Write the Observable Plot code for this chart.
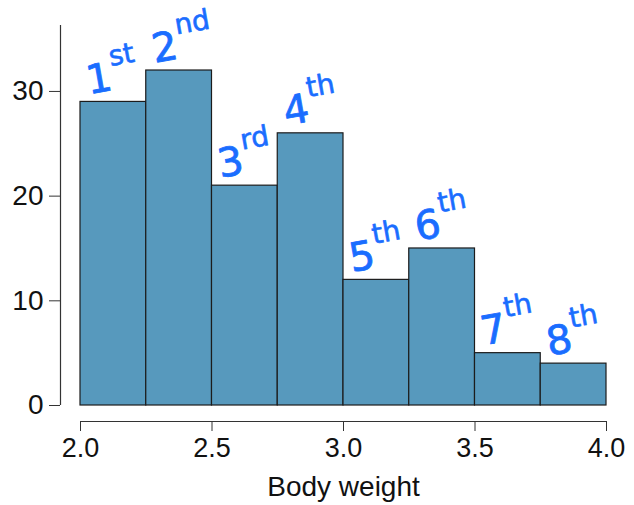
<!DOCTYPE html>
<html>
<head>
<meta charset="utf-8">
<script src="https://cdn.jsdelivr.net/npm/d3@7"></script>
<script src="https://cdn.jsdelivr.net/npm/@observablehq/plot@0.6"></script>
<style>
  html, body { margin: 0; padding: 0; background: #fff; }
  #chart svg { display: block; }
</style>
</head>
<body>
<div id="chart"></div>
<script>
const binEdges = [2.0, 2.25, 2.5, 2.75, 3.0, 3.25, 3.5, 3.75, 4.0];
const counts = [29, 32, 21, 26, 12, 15, 5, 4];
const ordinalNumbers = ["1", "2", "3", "4", "5", "6", "7", "8"];
const ordinalSuffixes = ["st", "nd", "rd", "th", "th", "th", "th", "th"];
const xTicks = [2.0, 2.5, 3.0, 3.5, 4.0];
const yTicks = [0, 10, 20, 30];
const xLabel = "Body weight";

const rows = counts.map((c, i) => ({
  x1: binEdges[i], x2: binEdges[i + 1], count: c,
  mid: (binEdges[i] + binEdges[i + 1]) / 2,
  num: ordinalNumbers[i], suf: ordinalSuffixes[i]
}));

const blue = "#1a6dff";
const plot = Plot.plot({
  width: 634,
  height: 505,
  marginLeft: 80,
  marginRight: 28,
  marginTop: 25,
  marginBottom: 100,
  style: { fontFamily: "Liberation Sans, Arial, sans-serif", background: "#fff", color: "#111" },
  x: { domain: [2, 4] },
  y: { domain: [0, 36.3] },
  marks: [
    Plot.rectY(rows, { x1: "x1", x2: "x2", y1: 0, y2: "count", fill: "#5799bd", stroke: "#1c1c1c", strokeWidth: 1.2 }),
    Plot.ruleX([2], { y1: 0, y2: 36.3, dx: -20, stroke: "#333", strokeWidth: 1.2 }),
    Plot.axisY({ ticks: yTicks, tickSize: 11, dx: -20, tickPadding: 6, fontSize: 28, label: null, tickFormat: d3.format("d"), stroke: "#333" }),
    Plot.ruleY([0], { x1: 2, x2: 4, dy: 16, stroke: "#333", strokeWidth: 1.2 }),
    Plot.axisX({ ticks: xTicks, tickSize: 10, dy: 16, tickPadding: 6, fontSize: 27, label: null, tickFormat: d3.format(".1f"), stroke: "#333" }),
    Plot.text([xLabel], { frameAnchor: "bottom", dy: 90, lineAnchor: "bottom", fontSize: 28, fill: "#111" }),
    Plot.text(rows, { x: "mid", y: "count", text: "num", dx: -12, dy: -10, lineAnchor: "bottom", fontSize: 40, fill: blue, stroke: blue, strokeWidth: 0.8, rotate: -10, fontFamily: "DejaVu Sans" }),
    Plot.text(rows, { x: "mid", y: "count", text: "suf", dx: -3, dy: -36, textAnchor: "start", lineAnchor: "bottom", fontSize: 28, fill: blue, stroke: blue, strokeWidth: 0.6, rotate: -10, fontFamily: "DejaVu Sans" })
  ]
});
document.getElementById("chart").appendChild(plot);
</script>
</body>
</html>
